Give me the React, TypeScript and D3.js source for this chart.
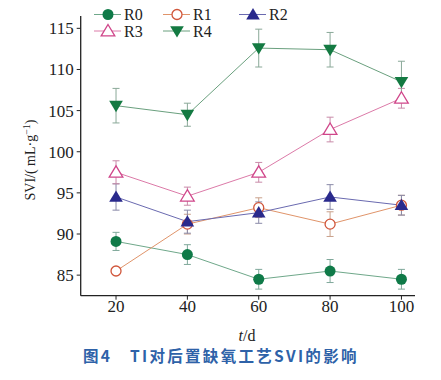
import React from "react";
import * as d3 from "d3";

const days = [20, 40, 60, 80, 100];
const yTicks = [85, 90, 95, 100, 105, 110, 115];

const r0 = [89.1, 87.5, 84.5, 85.5, 84.5];
const r0Err = [1.1, 1.2, 1.2, 1.4, 1.2];
const r1 = [85.5, 91.2, 93.2, 91.2, 93.5];
const r1Err = [0.0, 1.2, 1.2, 1.5, 1.2];
const r2 = [94.5, 91.5, 92.6, 94.5, 93.5];
const r2Err = [1.6, 1.4, 1.3, 1.5, 1.2];
const r3 = [97.5, 94.6, 97.5, 102.7, 106.5];
const r3Err = [1.4, 1.1, 1.2, 1.5, 1.2];
const r4 = [105.6, 104.5, 112.6, 112.4, 108.5];
const r4Err = [2.1, 1.4, 2.3, 2.1, 2.5];

const seriesNames = ["R0", "R1", "R2", "R3", "R4"];

type Series = {
  name: string;
  values: number[];
  errs: number[];
  color: string;
  line: string;
  err: string;
  marker: "circle" | "ocircle" | "tri" | "otri" | "dtri";
};

const series: Series[] = [
  { name: seriesNames[0], values: r0, errs: r0Err, color: "#0f7a48", line: "#6fa88a", err: "#7fa89a", marker: "circle" },
  { name: seriesNames[1], values: r1, errs: r1Err, color: "#d0553a", line: "#e0946a", err: "#c9a08a", marker: "ocircle" },
  { name: seriesNames[2], values: r2, errs: r2Err, color: "#2a2a8c", line: "#6a6ab0", err: "#8a8aa8", marker: "tri" },
  { name: seriesNames[3], values: r3, errs: r3Err, color: "#d0468a", line: "#dc7aa8", err: "#c88aa8", marker: "otri" },
  { name: seriesNames[4], values: r4, errs: r4Err, color: "#147a42", line: "#6aa07e", err: "#8aa898", marker: "dtri" },
];

const W = 441, H = 380;
const x = d3.scaleLinear().domain([10.1, 103.8]).range([80.7, 415]);
const y = d3.scaleLinear().domain([82.5, 116.5]).range([295.7, 16]);

function Marker({ kind, cx, cy, color }: { kind: Series["marker"]; cx: number; cy: number; color: string }) {
  const s = 6.5;
  if (kind === "circle") return <circle cx={cx} cy={cy} r={5.5} fill={color} />;
  if (kind === "ocircle") return <circle cx={cx} cy={cy} r={5} fill="white" stroke={color} strokeWidth={1.3} />;
  if (kind === "tri" || kind === "otri") {
    const p = `${cx},${cy - s} ${cx + s * 1.05},${cy + s * 0.75} ${cx - s * 1.05},${cy + s * 0.75}`;
    return kind === "tri" ? (
      <polygon points={p} fill={color} />
    ) : (
      <polygon points={p} fill="white" stroke={color} strokeWidth={1.3} />
    );
  }
  const p = `${cx},${cy + s} ${cx + s * 1.05},${cy - s * 0.75} ${cx - s * 1.05},${cy - s * 0.75}`;
  return <polygon points={p} fill={color} />;
}

export default function App() {
  const line = d3
    .line<number>()
    .x((_, i) => x(days[i]))
    .y((d) => y(d));
  const serif = "'Liberation Serif', 'DejaVu Serif', serif";
  const legendPos = [
    [94, 14.5],
    [163, 14.5],
    [239, 14.5],
    [94, 31],
    [163, 31],
  ];
  return (
    <svg width={W} height={H} style={{ position: "absolute", left: 0, top: 0, background: "white" }}>
      <rect width={W} height={H} fill="white" />
      {/* axes */}
      <line x1={x.range()[0]} x2={x.range()[0]} y1={16} y2={295.7} stroke="#222" strokeWidth={1.3} />
      <line x1={x.range()[0]} x2={415} y1={295.7} y2={295.7} stroke="#222" strokeWidth={1.3} />
      {yTicks.map((t) => (
        <g key={t}>
          <line x1={x.range()[0] - 4} x2={x.range()[0]} y1={y(t)} y2={y(t)} stroke="#222" strokeWidth={1} />
          <text x={x.range()[0] - 7} y={y(t)} dy="0.35em" textAnchor="end" fontFamily={serif} fontSize={17} fill="#222">
            {t}
          </text>
        </g>
      ))}
      {days.map((t) => (
        <g key={t}>
          <line x1={x(t)} x2={x(t)} y1={295.7} y2={299.7} stroke="#222" strokeWidth={1} />
          <text x={x(t)} y={312} textAnchor="middle" fontFamily={serif} fontSize={17} fill="#222">
            {t}
          </text>
        </g>
      ))}
      <text x={247} y={341} textAnchor="middle" fontFamily={serif} fontSize={16} fill="#222">
        <tspan fontStyle="italic">t</tspan>/d
      </text>
      <text
        transform="translate(35,160) rotate(-90)"
        textAnchor="middle"
        fontFamily={serif}
        fontSize={14}
        fill="#222"
      >
        SVI/( mL·g<tspan dy={-5} fontSize={10}>−1</tspan>
        <tspan dy={5}>)</tspan>
      </text>
      {/* series */}
      {series.map((s) => (
        <g key={s.name}>
          <path d={line(s.values) ?? ""} fill="none" stroke={s.line} strokeWidth={1} />
          {s.values.map((v, i) =>
            s.errs[i] > 0 ? (
              <g key={i} stroke={s.err} strokeWidth={1}>
                <line x1={x(days[i])} x2={x(days[i])} y1={y(v - s.errs[i])} y2={y(v + s.errs[i])} />
                <line x1={x(days[i]) - 3.5} x2={x(days[i]) + 3.5} y1={y(v - s.errs[i])} y2={y(v - s.errs[i])} />
                <line x1={x(days[i]) - 3.5} x2={x(days[i]) + 3.5} y1={y(v + s.errs[i])} y2={y(v + s.errs[i])} />
              </g>
            ) : null
          )}
        </g>
      ))}
      {series.map((s) => (
        <g key={s.name + "m"}>
          {s.values.map((v, i) => (
            <Marker key={i} kind={s.marker} cx={x(days[i])} cy={y(v)} color={s.color} />
          ))}
        </g>
      ))}
      {/* legend */}
      {series.map((s, i) => {
        const [lx, ly] = legendPos[i];
        return (
          <g key={s.name + "l"}>
            <line x1={lx} x2={lx + 27} y1={ly} y2={ly} stroke={s.line} strokeWidth={1} />
            <Marker kind={s.marker} cx={lx + 14} cy={ly} color={s.color} />
            <text x={lx + 30} y={ly} dy="0.35em" fontFamily={serif} fontSize={16} fill="#222">
              {s.name}
            </text>
          </g>
        );
      })}
      <text
        x={83}
        y={362}
        fontFamily="'Noto Sans CJK SC', 'Noto Sans', sans-serif"
        fontWeight="bold"
        fontSize={15.5}
        letterSpacing={2.3}
        fill="#2e62a8"
      >
        图4　TI对后置缺氧工艺SVI的影响
      </text>
    </svg>
  );
}
